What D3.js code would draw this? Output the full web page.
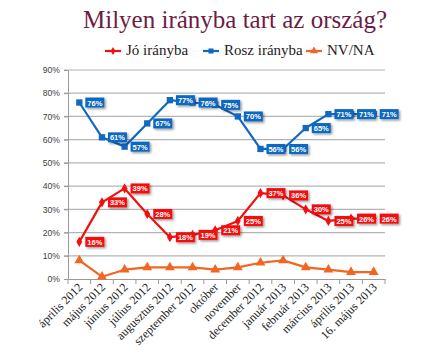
<!DOCTYPE html>
<html><head><meta charset="utf-8">
<script src="https://cdn.jsdelivr.net/npm/d3@7"></script>
<style>body{margin:0;background:#fff}svg{display:block}</style>
</head><body>
<script>
const categories = ["április 2012","május 2012","június 2012","július 2012","augusztus 2012","szeptember 2012","október","november","december 2012","január 2013","február 2013","március 2013","április 2013","16. május 2013"];
const joIranyba = [16,33,39,28,18,19,21,25,37,36,30,25,26,26];
const roszIranyba = [76,61,57,67,77,76,75,70,56,56,65,71,71,71];
const nvna = [8,1,4,5,5,5,4,5,7,8,5,4,3,3];
const yTicks = [0,10,20,30,40,50,60,70,80,90];
const title = "Milyen irányba tart az ország?";
const seriesNames = ["Jó irányba","Rosz irányba","NV/NA"];

const W=440,H=355;
const svg=d3.select("body").append("svg").attr("width",W).attr("height",H);
const x=d3.scaleBand().domain(categories).range([68,385]);
const y=d3.scaleLinear().domain([0,90]).range([279,70]);
const cx=d=>x(d)+x.bandwidth()/2;

svg.append("text").attr("x",235).attr("y",28).attr("text-anchor","middle")
  .attr("font-family","Liberation Serif, Times New Roman, serif").attr("font-size",25)
  .attr("fill","#6b1d45").text(title);

// gridlines
svg.append("g").selectAll("line").data(yTicks.filter(t=>t>0)).join("line")
  .attr("x1",64).attr("x2",385).attr("y1",d=>y(d)).attr("y2",d=>y(d))
  .attr("stroke","#b3b3b3").attr("stroke-width",1.2);

// y axis
const ya=svg.append("g").attr("transform","translate(68,0)")
  .call(d3.axisLeft(y).tickValues(yTicks).tickFormat(d=>d+"%").tickSize(4).tickPadding(4));
ya.select(".domain").attr("stroke","#999");
ya.selectAll(".tick line").attr("stroke","#999");
ya.selectAll("text").attr("font-family","Liberation Sans, Arial, sans-serif").attr("font-size",8.6).attr("fill","#404040");

// x axis
const xa=svg.append("g").attr("transform","translate(0,279)")
  .call(d3.axisBottom(x).tickSize(0).tickFormat(""));
xa.select(".domain").attr("stroke","#999").attr("stroke-width",1.2);
svg.append("g").selectAll("line").data(categories.concat(["__end"])).join("line")
  .attr("x1",(d,i)=>68+i*x.step()).attr("x2",(d,i)=>68+i*x.step())
  .attr("y1",279).attr("y2",284).attr("stroke","#999");
svg.append("g").selectAll("text").data(categories).join("text")
  .attr("transform",d=>`translate(${cx(d)+4},${288}) rotate(-45)`)
  .attr("text-anchor","end")
  .attr("font-family","Liberation Serif, Times New Roman, serif").attr("font-size",12)
  .attr("fill","#222").text(d=>d);

const defs=svg.append("defs");
defs.append("filter").attr("id","sh").attr("x","-30%").attr("y","-30%").attr("width","160%").attr("height","160%")
  .html('<feDropShadow dx="1.5" dy="1.5" stdDeviation="0.8" flood-color="#000" flood-opacity="0.4"/>');

const series=[
  {name:seriesNames[0],vals:joIranyba,color:"#f40f0f",marker:"diamond",labels:true},
  {name:seriesNames[1],vals:roszIranyba,color:"#1168c0",marker:"square",labels:true},
  {name:seriesNames[2],vals:nvna,color:"#f26522",marker:"triangle",labels:false}
];
function markerPath(type){
  if(type==="diamond") return d3.symbol(d3.symbolDiamond,30)();
  if(type==="square") return d3.symbol(d3.symbolSquare,40)();
  return d3.symbol(d3.symbolTriangle,42)();
}
const line=d3.line().x((d,i)=>cx(categories[i])).y(d=>y(d));
series.forEach(s=>{
  const g=svg.append("g");
  g.append("path").datum(s.vals).attr("d",line).attr("fill","none").attr("stroke",s.color).attr("stroke-width",2.2).attr("stroke-linejoin","round");
  g.selectAll(".m").data(s.vals).join("path").attr("class","m")
    .attr("transform",(d,i)=>`translate(${cx(categories[i])},${y(d)})`)
    .attr("d",markerPath(s.marker)).attr("fill",s.color);
  if(s.labels){
    const lg=g.selectAll(".lb").data(s.vals).join("g").attr("class","lb")
      .attr("transform",(d,i)=>`translate(${cx(categories[i])+6},${y(d)})`);
    lg.append("rect").attr("x",0).attr("y",-5).attr("width",19).attr("height",10)
      .attr("fill",s.color).attr("filter","url(#sh)");
    lg.append("text").attr("x",9.5).attr("y",3).attr("text-anchor","middle")
      .attr("font-family","Liberation Sans, Arial, sans-serif").attr("font-size",7.5).attr("font-weight","bold")
      .attr("fill","#fff").text(d=>d+"%");
  }
});

// legend
const legX=[105,203,306];
const lgd=svg.append("g");
series.forEach((s,i)=>{
  const g=lgd.append("g").attr("transform",`translate(${legX[i]},51)`);
  g.append("line").attr("x1",0).attr("x2",16).attr("stroke",s.color).attr("stroke-width",2.2);
  g.append("path").attr("transform","translate(8,0) scale(0.8)").attr("d",markerPath(s.marker)).attr("fill",s.color);
  g.append("text").attr("x",21).attr("y",4).attr("font-family","Liberation Serif, Times New Roman, serif")
    .attr("font-size",15).attr("fill","#222").text(s.name);
});
</script>
</body></html>
